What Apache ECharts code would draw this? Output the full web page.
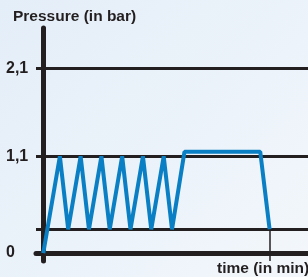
<!DOCTYPE html>
<html>
<head>
<meta charset="utf-8">
<script src="https://cdn.jsdelivr.net/npm/echarts@6/dist/echarts.min.js"></script>
<style>
html, body { margin: 0; padding: 0; }
#chart { width: 308px; height: 277px; }
</style>
</head>
<body>
<div id="chart"></div>
<script>
// pressure cycle, time in arbitrary minutes (schematic)
var timeMin = [0, 1.6, 2.4, 3.6, 4.4, 5.6, 6.4, 7.6, 8.4, 9.6, 10.4, 11.6, 12.4, 13.6, 20.9, 21.8];
var pressureBar = [0, 1.1, 0.27, 1.1, 0.27, 1.1, 0.27, 1.1, 0.27, 1.1, 0.27, 1.1, 0.27, 1.15, 1.15, 0.27];
var yTickValues = [0, 1.1, 2.1];
var gridLevels = [0.27, 1.1, 2.1];
var endTime = 21.8;
var lowLevel = 0.27;

var dark = '#231f20';
var font = '"Liberation Sans", Arial, sans-serif';
var chart = echarts.init(document.getElementById('chart'));

var option = {
  backgroundColor: {
    type: 'linear', x: 0, y: 0, x2: 1, y2: 1,
    colorStops: [
      { offset: 0, color: '#e4eef8' },
      { offset: 0.6, color: '#ecf3fa' },
      { offset: 1, color: '#f3f7fb' }
    ]
  },
  title: [{
    text: 'Pressure (in bar)',
    left: 13, top: 9, padding: 0,
    textStyle: { fontFamily: font, fontWeight: 'bold', fontSize: 15.5, color: dark }
  }, {
    text: 'time (in min)',
    left: 217, top: 261, padding: 0,
    textStyle: { fontFamily: font, fontWeight: 'bold', fontSize: 15.5, color: dark }
  }],
  grid: { left: 36, right: 0, top: 28, bottom: 16 },
  xAxis: {
    type: 'value',
    min: -0.7,
    max: 25.5,
    axisLine: { show: true, onZero: true, lineStyle: { color: dark, width: 5 } },
    axisTick: { show: false },
    axisLabel: { show: false },
    splitLine: { show: false }
  },
  yAxis: {
    type: 'value',
    min: -0.09,
    max: 2.557,
    axisLine: { show: true, onZero: true, lineStyle: { color: dark, width: 5 } },
    axisTick: { show: false },
    axisLabel: {
      customValues: yTickValues,
      align: 'left',
      margin: 30,
      fontFamily: font,
      fontWeight: 'bold',
      fontSize: 16,
      color: dark,
      formatter: function (v) { return String(v).replace('.', ','); }
    },
    splitLine: { show: false }
  },
  series: [{
    type: 'line',
    data: timeMin.map(function (t, i) { return [t, pressureBar[i]]; }),
    showSymbol: false,
    symbol: 'none',
    z: 3,
    lineStyle: { color: '#0a7fc4', width: 4 },
    markLine: {
      silent: true,
      symbol: 'none',
      label: { show: false },
      z: 1,
      data: gridLevels.map(function (v) {
        return { yAxis: v, lineStyle: { color: dark, width: 3, type: 'solid' } };
      }).concat([[
        { coord: [endTime, lowLevel], lineStyle: { color: dark, width: 1.5, type: 'solid' } },
        { coord: [endTime, -0.09] }
      ]])
    }
  }]
};

chart.setOption(option);
</script>
</body>
</html>
